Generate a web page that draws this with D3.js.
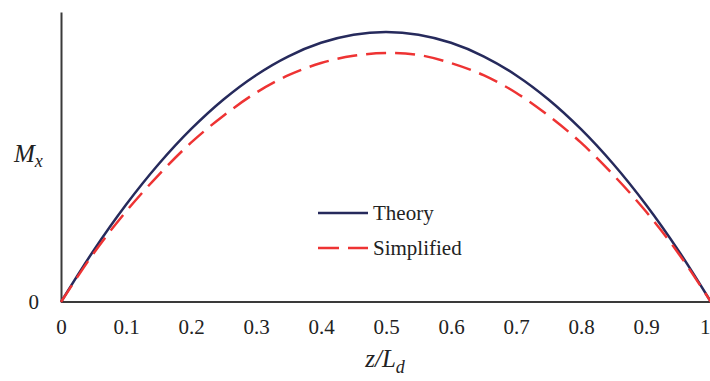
<!DOCTYPE html>
<html>
<head>
<meta charset="utf-8">
<script src="https://cdn.jsdelivr.net/npm/d3@7"></script>
<style>
  html, body { margin: 0; padding: 0; background: #fff; }
  svg { display: block; }
  text { font-family: "Liberation Serif", "Times New Roman", serif; fill: #222; }
</style>
</head>
<body>
<svg id="chart" width="710" height="381"></svg>
<script>
// Data
const zValues = [0, 0.05, 0.1, 0.15, 0.2, 0.25, 0.3, 0.35, 0.4, 0.45, 0.5, 0.55, 0.6, 0.65, 0.7, 0.75, 0.8, 0.85, 0.9, 0.95, 1.0];
const theoryValues = [0, 0.19, 0.36, 0.51, 0.64, 0.75, 0.84, 0.91, 0.96, 0.99, 1.0, 0.99, 0.96, 0.91, 0.84, 0.75, 0.64, 0.51, 0.36, 0.19, 0];
const simplifiedValues = [0, 0.18, 0.335, 0.47, 0.59, 0.69, 0.775, 0.84, 0.885, 0.912, 0.922, 0.915, 0.885, 0.84, 0.775, 0.69, 0.59, 0.47, 0.335, 0.18, 0];
const xTickValues = [0, 0.1, 0.2, 0.3, 0.4, 0.5, 0.6, 0.7, 0.8, 0.9, 1];
const xTickLabels = ["0", "0.1", "0.2", "0.3", "0.4", "0.5", "0.6", "0.7", "0.8", "0.9", "1"];
const yTickValues = [0];
const yTickLabels = ["0"];
const seriesNames = ["Theory", "Simplified"];

const svg = d3.select("#chart");
const W = 710, H = 381;
const x = d3.scaleLinear().domain([0, 1]).range([61, 711]);
const y = d3.scaleLinear().domain([0, 1.074]).range([302, 12]);

// Axes
const xAxis = d3.axisBottom(x).tickValues(xTickValues).tickSize(0).tickPadding(17)
  .tickFormat((d, i) => xTickLabels[i]);
const gx = svg.append("g").attr("transform", `translate(0,${y(0)})`).call(xAxis);
gx.select(".domain").attr("stroke", "#3a3a3a").attr("stroke-width", 2).attr("d", `M${x(0)},0H${W}`);
gx.selectAll("text").attr("font-size", 21).attr("fill", "#222")
  .style("font-family", '"Liberation Serif", serif');
// keep the last label inside the picture
gx.selectAll(".tick").filter(d => d === 1).select("text")
  .attr("text-anchor", "end").attr("x", -1);

const yAxis = d3.axisLeft(y).tickValues(yTickValues).tickSize(0).tickPadding(22)
  .tickFormat((d, i) => yTickLabels[i]);
const gy = svg.append("g").attr("transform", `translate(${x(0)},0)`).call(yAxis);
gy.select(".domain").attr("stroke", "#3a3a3a").attr("stroke-width", 2);
gy.selectAll("text").attr("font-size", 21).attr("fill", "#222")
  .style("font-family", '"Liberation Serif", serif');

// Lines
const line = d3.line().curve(d3.curveCatmullRom.alpha(0.5));
const theoryPts = zValues.map((z, i) => [x(z), y(theoryValues[i])]);
const simpPts = zValues.map((z, i) => [x(z), y(simplifiedValues[i])]);

svg.append("path").attr("d", line(theoryPts)).attr("fill", "none")
  .attr("stroke", "#262a5c").attr("stroke-width", 2.5);
svg.append("path").attr("d", line(simpPts)).attr("fill", "none")
  .attr("stroke", "#ee3333").attr("stroke-width", 2.5).attr("stroke-dasharray", "20,9");

// Legend
const leg = svg.append("g");
leg.append("line").attr("x1", 318).attr("x2", 368).attr("y1", 213).attr("y2", 213)
  .attr("stroke", "#262a5c").attr("stroke-width", 2.5);
leg.append("text").attr("x", 373).attr("y", 220).attr("font-size", 21).text(seriesNames[0]);
leg.append("line").attr("x1", 318).attr("x2", 368).attr("y1", 248).attr("y2", 248)
  .attr("stroke", "#ee3333").attr("stroke-width", 2.5).attr("stroke-dasharray", "21,9");
leg.append("text").attr("x", 373).attr("y", 255).attr("font-size", 21).text(seriesNames[1]);

// Axis titles
const yt = svg.append("text").attr("x", 14).attr("y", 162).attr("font-size", 25).attr("font-style", "italic");
yt.append("tspan").text("M");
yt.append("tspan").attr("font-size", 18).attr("dy", 5).text("x");

const xt = svg.append("text").attr("x", 385).attr("y", 367).attr("text-anchor", "middle")
  .attr("font-size", 25).attr("font-style", "italic");
xt.append("tspan").text("z/L");
xt.append("tspan").attr("font-size", 18).attr("dy", 6).text("d");
</script>
</body>
</html>
